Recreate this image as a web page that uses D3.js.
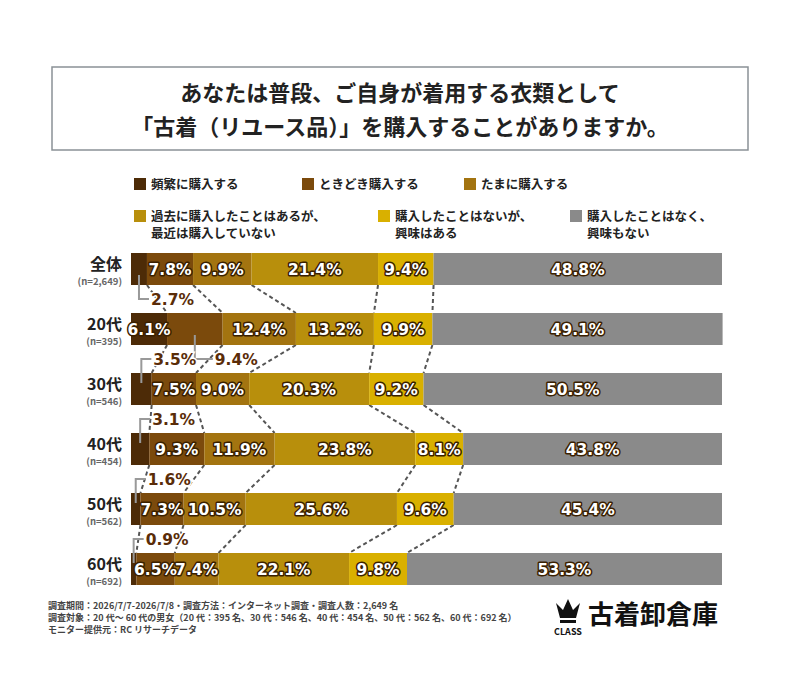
<!DOCTYPE html>
<html lang="ja">
<head>
<meta charset="UTF-8">
<script src="https://d3js.org/d3.v7.min.js"></script>
<style>
  body { margin: 0; background: #fff; font-family: "Noto Sans CJK JP", "Noto Sans", sans-serif; }
  .seg-label { font-family: "DejaVu Sans", sans-serif; font-weight: bold; font-size: 15.5px; fill: #fff; paint-order: stroke; stroke: #3a2000; stroke-width: 3px; stroke-linejoin: round; }
  .out-label { font-family: "DejaVu Sans", sans-serif; font-weight: bold; font-size: 15.5px; fill: #5a2c08; paint-order: stroke; stroke: #fff; stroke-width: 3px; }
</style>
</head>
<body>
<div id="chart"></div>
<script>
const groups = ["全体", "20代", "30代", "40代", "50代", "60代"];
const counts = ["(n=2,649)", "(n=395)", "(n=546)", "(n=454)", "(n=562)", "(n=692)"];
const seriesNames = ["頻繁に購入する", "ときどき購入する", "たまに購入する",
  "過去に購入したことはあるが、\n最近は購入していない", "購入したことはないが、\n興味はある", "購入したことはなく、\n興味もない"];
const colors = ["#4d2b07", "#7b4a0c", "#a37410", "#b88f0c", "#d9b000", "#8a8a8a"];
const values = [
  [2.7, 7.8, 9.9, 21.4, 9.4, 48.8],
  [6.1, 9.4, 12.4, 13.2, 9.9, 49.1],
  [3.5, 7.5, 9.0, 20.3, 9.2, 50.5],
  [3.1, 9.3, 11.9, 23.8, 8.1, 43.8],
  [1.6, 7.3, 10.5, 25.6, 9.6, 45.4],
  [0.9, 6.5, 7.4, 22.1, 9.8, 53.3]
];
// labels drawn outside the bar: [row, series, side, bracket arm]
const outside = [[0, 0, "below", 10], [1, 1, "below", 18], [2, 0, "above", 10], [3, 0, "above", 10], [4, 0, "above", 10], [5, 0, "above", 10]];

const W = 800, H = 698;
const svg = d3.select("#chart").append("svg").attr("width", W).attr("height", H);

// title box
svg.append("rect").attr("x", 52).attr("y", 67).attr("width", 696).attr("height", 83)
  .attr("fill", "#fff").attr("stroke", "#8a9196").attr("stroke-width", 1.5);
["あなたは普段、ご自身が着用する衣類として", "「古着（リユース品）」を購入することがありますか。"].forEach((t, i) => {
  svg.append("text").attr("x", 400).attr("y", 101 + i * 34).attr("text-anchor", "middle")
    .attr("font-size", 22).attr("font-weight", "bold").attr("fill", "#222").text(t);
});

// legend
const legPos = [[134, 185], [302, 185], [464, 185], [134, 217], [378, 217], [570, 217]];
seriesNames.forEach((n, i) => {
  const [lx, ly] = legPos[i];
  svg.append("rect").attr("x", lx).attr("y", ly - 7).attr("width", 12).attr("height", 12).attr("fill", colors[i]);
  n.split("\n").forEach((t, j) => {
    svg.append("text").attr("x", lx + 17).attr("y", ly + 4 + j * 17)
      .attr("font-size", 12.5).attr("font-weight", "bold").attr("fill", "#222").text(t);
  });
});

const x = d3.scaleLinear().domain([0, 100]).range([131, 722]);
const y = d3.scaleBand().domain(groups).range([253, 613]).padding(0);
const bh = 32;
const rowY = g => y(g);

const stacked = values.map(r => { let c = 0; return r.map(v => { const s = c; c += v; return [s, c]; }); });

// dashed connectors
for (let i = 0; i < groups.length - 1; i++) {
  for (let k = 0; k < 5; k++) {
    svg.append("line")
      .attr("x1", x(stacked[i][k][1])).attr("y1", rowY(groups[i]) + bh)
      .attr("x2", x(stacked[i + 1][k][1])).attr("y2", rowY(groups[i + 1]))
      .attr("stroke", "#555").attr("stroke-width", 2).attr("stroke-dasharray", "4,3");
  }
}

groups.forEach((g, i) => {
  const yy = rowY(g);
  stacked[i].forEach((s, k) => {
    svg.append("rect").attr("x", x(s[0])).attr("y", yy).attr("width", x(s[1]) - x(s[0])).attr("height", bh).attr("fill", colors[k]);
  });
  stacked[i].forEach((s, k) => {
    if (outside.some(o => o[0] === i && o[1] === k)) return;
    svg.append("text").attr("class", "seg-label").attr("x", (x(s[0]) + x(s[1])) / 2).attr("y", yy + bh / 2 + 6)
      .attr("text-anchor", "middle").text(values[i][k].toFixed(1) + "%");
  });
  svg.append("text").attr("x", 122).attr("y", yy + 17).attr("text-anchor", "end")
    .attr("font-size", 16).attr("font-weight", "bold").attr("fill", "#222").text(g);
  svg.append("text").attr("x", 122).attr("y", yy + 32).attr("text-anchor", "end")
    .attr("font-size", 9.5).attr("font-weight", "bold").attr("fill", "#666").text(counts[i]);
});

// outside labels with bracket lines
outside.forEach(([i, k, side, arm]) => {
  const s = stacked[i][k];
  const cx = (x(s[0]) + x(s[1])) / 2;
  const yy = rowY(groups[i]);
  const ly = side === "below" ? yy + bh + 14 : yy - 14;
  const ys = side === "below" ? yy + bh - 10 : yy + 10;
  svg.append("path").attr("d", `M${cx},${ys} L${cx},${ly} L${cx + arm},${ly}`)
    .attr("fill", "none").attr("stroke", "#999").attr("stroke-width", 2);
  svg.append("text").attr("class", "out-label").attr("x", cx + arm + 2).attr("y", ly + 6).text(values[i][k].toFixed(1) + "%");
});

// footer
["調査期間：2026/7/7-2026/7/8・調査方法：インターネット調査・調査人数：2,649 名",
 "調査対象：20 代～ 60 代の男女（20 代：395 名、30 代：546 名、40 代：454 名、50 代：562 名、60 代：692 名）",
 "モニター提供元：RC リサーチデータ"].forEach((t, i) => {
  svg.append("text").attr("x", 48).attr("y", 609 + i * 12).attr("font-size", 9)
    .attr("font-weight", "bold").attr("fill", "#444").text(t);
});

// logo
const lg = svg.append("g").attr("transform", "translate(556,598)");
lg.append("path").attr("d", "M4,20 L0,5 L7,12 L12,1 L17,12 L24,5 L20,20 Z").attr("fill", "#111");
lg.append("rect").attr("x", 4).attr("y", 22).attr("width", 16).attr("height", 3).attr("fill", "#111");
lg.append("text").attr("x", 12).attr("y", 37).attr("text-anchor", "middle").attr("font-size", 9)
  .attr("font-weight", "bold").attr("fill", "#111").text("CLASS");
svg.append("text").attr("x", 588).attr("y", 624).attr("font-size", 26).attr("font-weight", "bold")
  .attr("fill", "#111").text("古着卸倉庫");
</script>
</body>
</html>
